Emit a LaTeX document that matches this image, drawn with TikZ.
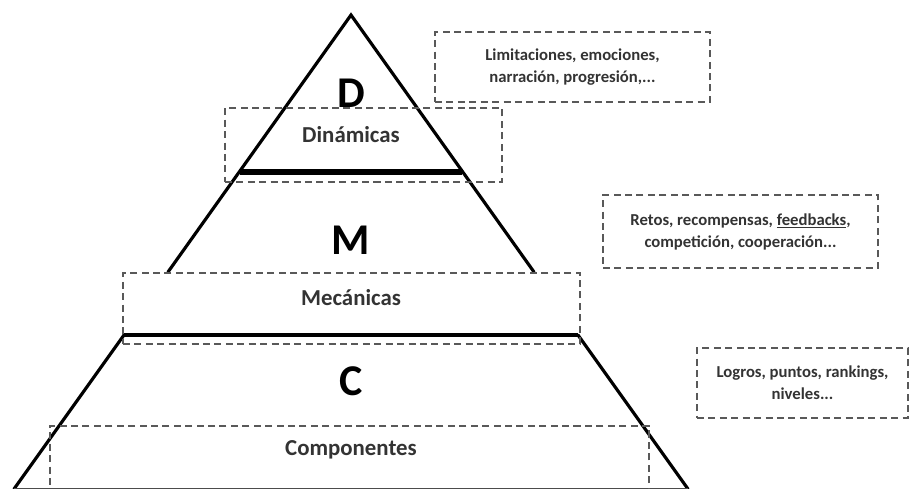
\documentclass[tikz,border=0pt]{standalone}
\usepackage{fontspec}
\setmainfont{Carlito}
\usetikzlibrary{positioning}

\tikzset{
  dashbox/.style={draw=black!65, line width=1pt, dash pattern=on 4pt off 2.5pt,
    align=center, inner sep=0pt, font=\bfseries\fontsize{9.5}{12.5}\selectfont, text=black!80},
  level/.style={font=\bfseries\fontsize{25}{25}\selectfont},
  layer/.style={font=\bfseries\fontsize{13}{15}\selectfont, text=black!80},
  edge/.style={line width=1.8pt, line cap=round}
}

\begin{document}
\begin{tikzpicture}[x=0.02cm, y=-0.02cm]
      \useasboundingbox (0,0) rectangle (911,489);
      % pyramid outline
      \coordinate (A) at (351,15);
      \coordinate (ML) at (168,272);
      \coordinate (MR) at (534,272);
      \coordinate (CL) at (124,335);
      \coordinate (CR) at (578,335);
      \coordinate (BL) at (14,489);
      \coordinate (BR) at (688,489);
      \draw [edge] (ML) -- (A) -- (MR);
      \draw [edge] (BL) -- (CL);
      \draw [edge] (BR) -- (CR);
      \draw [line width=1pt, black!70] (BL) -- (BR);
      \draw [line width=3.4pt] (240,172) -- (462,172);
      \draw [line width=2.2pt] (CL) -- (CR);

      % dashed boxes
      \node (dinbox) [dashbox, minimum width=5.54cm, minimum height=1.48cm] at (363.5,145) {};
      \node (mecbox) [dashbox, minimum width=9.14cm, minimum height=1.42cm] at (351.5,308.5) {};
      \node (compbox) [dashbox, minimum width=11.98cm, minimum height=1.5cm] at (349.5,463.5) {};
      \node (lim) [dashbox, minimum width=5.5cm, minimum height=1.4cm] at (572.5,67)
        {Limitaciones, emociones,\\narración, progresión,...};
      \node (ret) [dashbox, minimum width=5.5cm, minimum height=1.46cm] at (740.5,231.5)
        {Retos, recompensas, \underline{feedbacks},\\competición, cooperación...};
      \node (log) [dashbox, minimum width=4.22cm, minimum height=1.4cm] at (802.5,383)
        {Logros, puntos, rankings,\\niveles...};

      % labels
      \node (D) [level] at (351,93) {D};
      \node (M) [level] at (351,240) {M};
      \node (C) [level] at (351,381) {C};
      \node (din) [layer] at (351,135) {Dinámicas};
      \node (mec) [layer] at (351,298) {Mecánicas};
      \node (comp) [layer] at (351,450) {Componentes};
    \end{tikzpicture}
\end{document}
